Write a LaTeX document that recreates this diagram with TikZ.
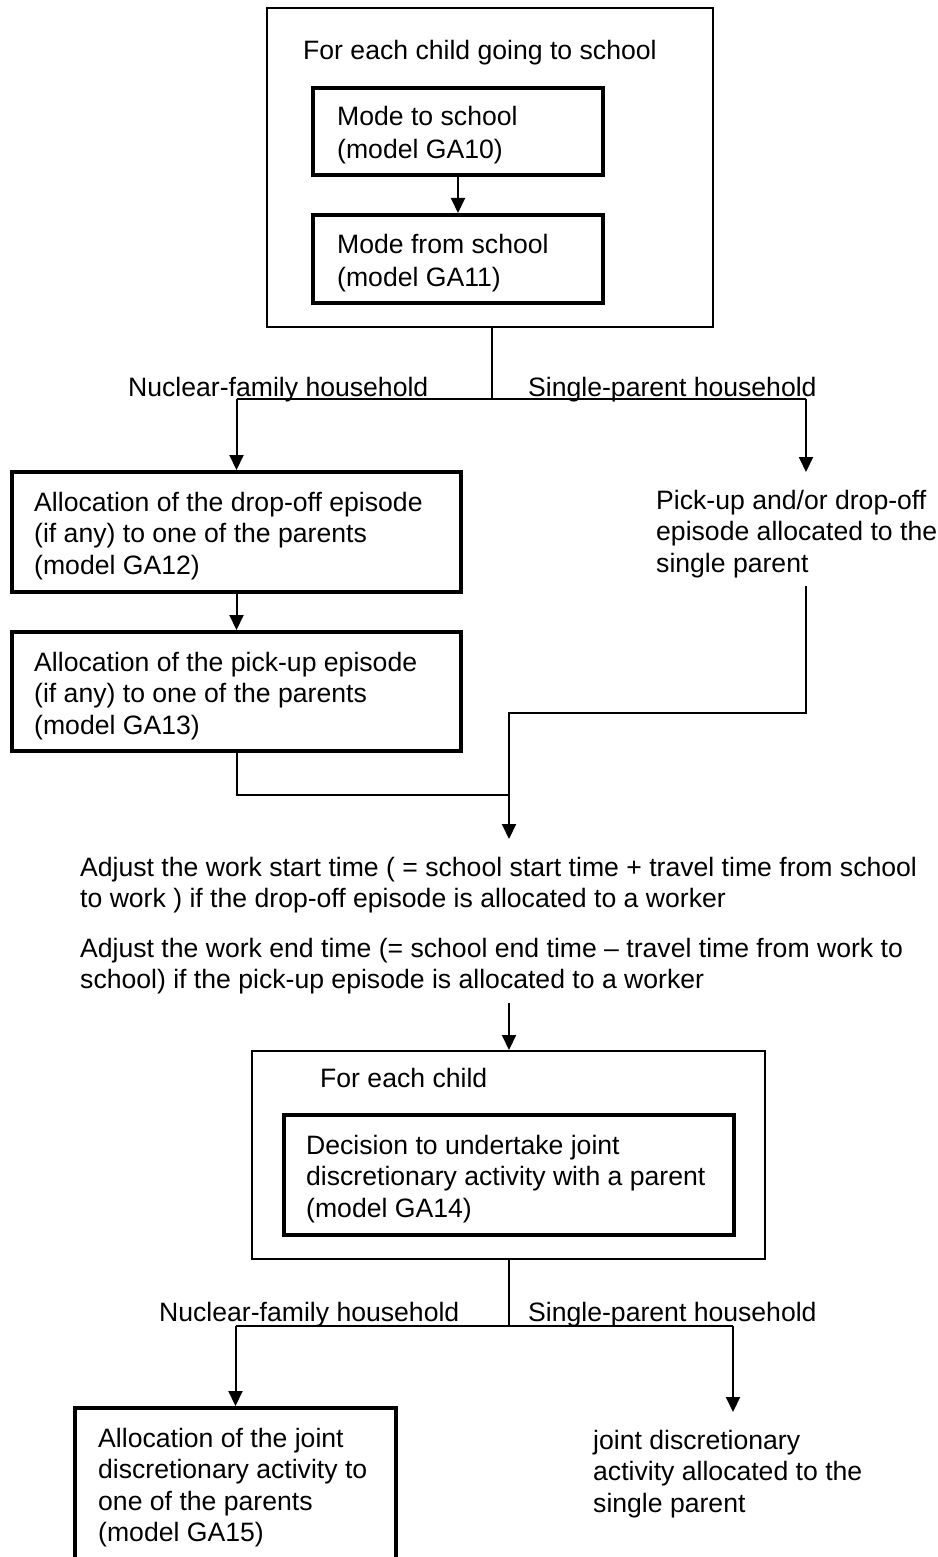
\documentclass[tikz,border=0pt]{standalone}
\usepackage{fontspec}
\setmainfont{Liberation Sans}
\usetikzlibrary{arrows.meta}
\begin{document}
\begin{tikzpicture}[x=1pt,y=-1pt,
  frame/.style={draw, line width=2pt, inner sep=0pt},
  modelbox/.style={draw, line width=4pt, inner sep=0pt},
  txt/.style={anchor=north west, align=left, inner sep=0pt, font=\fontsize{26.6}{31.5}\selectfont},
  conn/.style={line width=2pt},
  arr/.style={line width=2pt, -{Triangle[length=15pt,width=14pt]}}
]
\useasboundingbox (0,0) rectangle (937,1557);

% top group
\node[frame, minimum width=446, minimum height=319] (outer1) at (490,167.5) {};
\node[txt] (title1) at (303,40) {For each child going to school};
\node[modelbox, minimum width=290, minimum height=87] (m1) at (458,131.5) {};
\node[txt] (m1t) at (337,106) {Mode to school\\[1.5pt](model GA10)};
\node[modelbox, minimum width=290, minimum height=88] (m2) at (458,259) {};
\node[txt] (m2t) at (337,234) {Mode from school\\[1.5pt](model GA11)};

% branch labels 1
\node[txt] (nuc1) at (128,377) {Nuclear-family household};
\node[txt] (sin1) at (528,377) {Single-parent household};

% left branch boxes
\node[modelbox, minimum width=449, minimum height=120] (ga12) at (236.5,532) {};
\node[txt] (ga12t) at (34,492) {Allocation of the drop-off episode\\(if any) to one of the parents\\(model GA12)};
\node[modelbox, minimum width=449, minimum height=119] (ga13) at (236.5,691.5) {};
\node[txt] (ga13t) at (34,652) {Allocation of the pick-up episode\\(if any) to one of the parents\\(model GA13)};

% right branch text
\node[txt] (pick) at (656,490) {Pick-up and/or drop-off\\episode allocated to the\\single parent};

% adjust texts
\node[txt] (adj1) at (80,857) {Adjust the work start time ( = school start time + travel time from school\\to work ) if the drop-off episode is allocated to a worker};
\node[txt] (adj2) at (80,938) {Adjust the work end time (= school end time – travel time from work to\\school) if the pick-up episode is allocated to a worker};

% second group
\node[frame, minimum width=513, minimum height=208] (outer2) at (508.5,1155) {};
\node[txt] (title2) at (320,1068) {For each child};
\node[modelbox, minimum width=450, minimum height=120] (ga14) at (509,1175) {};
\node[txt] (ga14t) at (306,1135) {Decision to undertake joint\\discretionary activity with a parent\\(model GA14)};

% branch labels 2
\node[txt] (nuc2) at (159,1302) {Nuclear-family household};
\node[txt] (sin2) at (528,1302) {Single-parent household};

% bottom
\node[modelbox, minimum width=321, minimum height=155] (ga15) at (235.5,1485.5) {};
\node[txt] (ga15t) at (98,1428) {Allocation of the joint\\discretionary activity to\\one of the parents\\(model GA15)};
\node[txt] (joint) at (593,1430) {joint discretionary\\activity allocated to the\\single parent};

% coordinates
\coordinate (j1) at (492,399);
\coordinate (pickin) at (806,472);
\coordinate (pickout) at (806,586);
\coordinate (k) at (509,713);
\coordinate (j2) at (509,795);
\coordinate (adjin) at (509,839);
\coordinate (adjout) at (509,1003);
\coordinate (j3) at (509,1326);
\coordinate (jointin) at (733,1412);

% connectors
\draw[arr] (m1) -- (m2);
\draw[conn] (outer1.south -| j1) -- (j1);
\draw[conn] (ga12.north |- j1) -- (pickin |- j1);
\draw[arr] (ga12.north |- j1) -- (ga12.north);
\draw[arr] (pickin |- j1) -- (pickin);
\draw[arr] (ga12) -- (ga13);
\draw[conn] (pickout) |- (k) -- (j2);
\draw[conn] (ga13.south) |- (j2);
\draw[arr] (j2) -- (adjin);
\draw[arr] (adjout) -- (adjout |- outer2.north);
\draw[conn] (outer2.south -| j3) -- (j3);
\draw[conn] (ga15.north |- j3) -- (jointin |- j3);
\draw[arr] (ga15.north |- j3) -- (ga15.north);
\draw[arr] (jointin |- j3) -- (jointin);
\end{tikzpicture}
\end{document}
